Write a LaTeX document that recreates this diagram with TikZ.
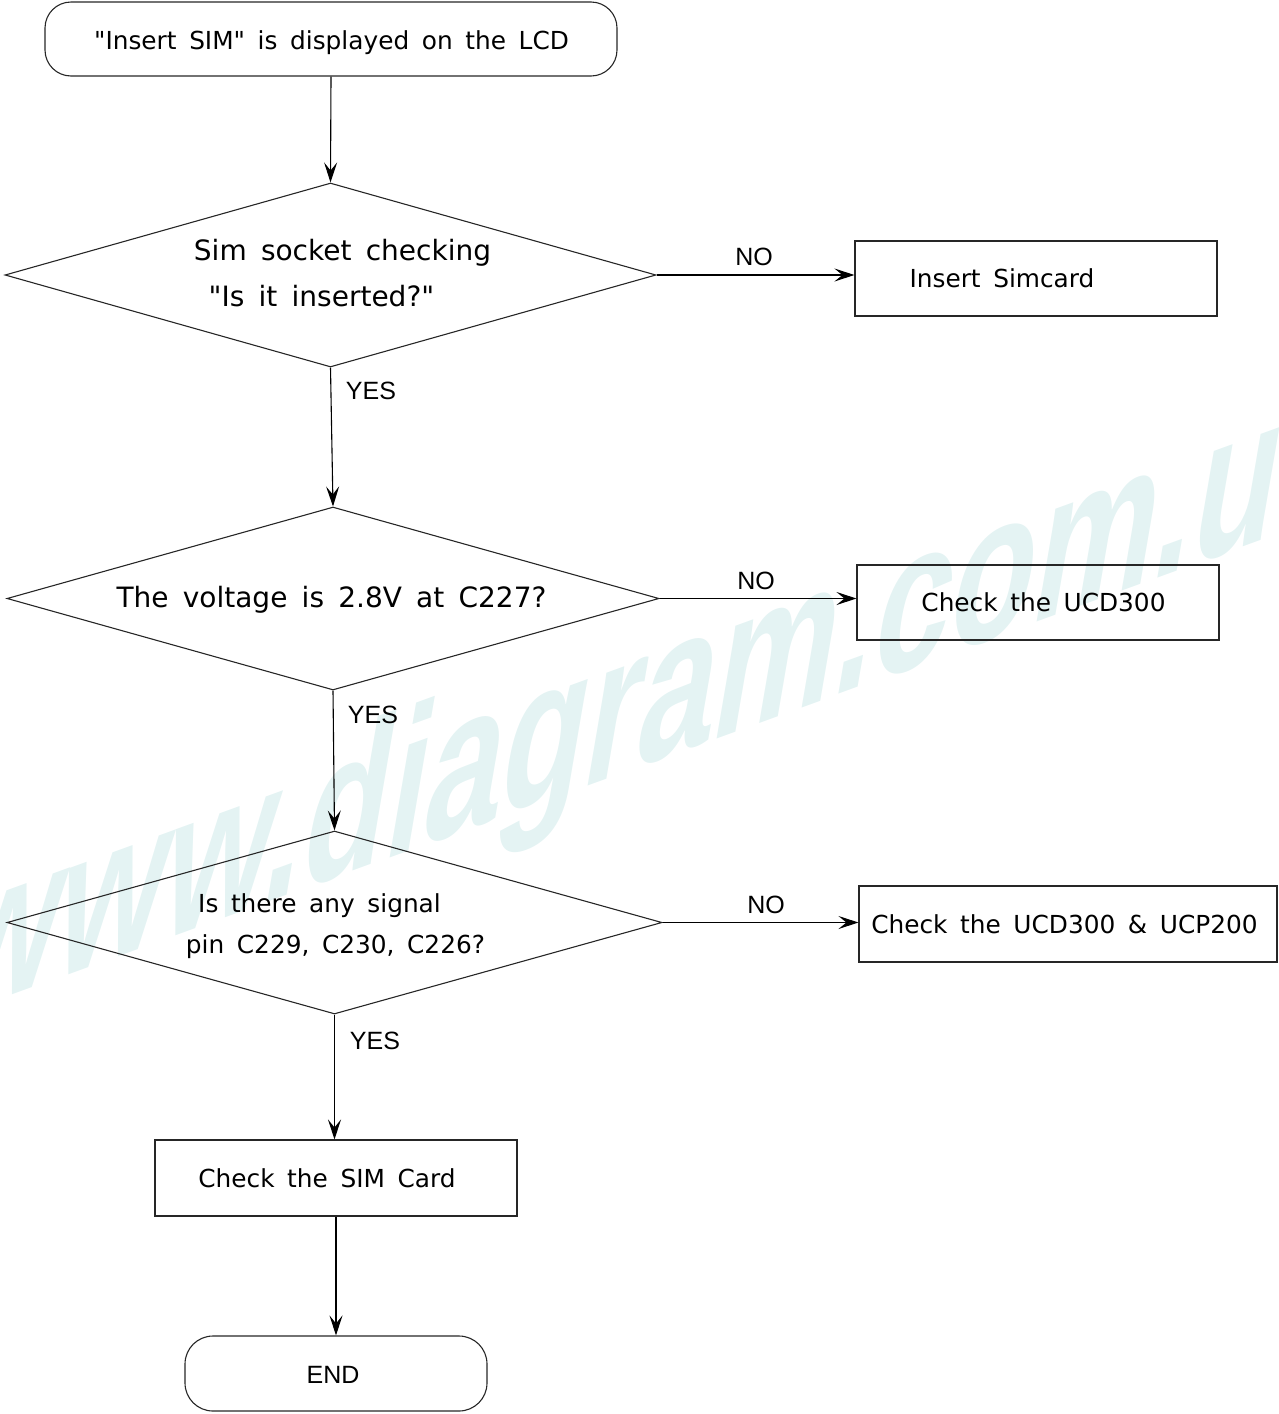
\documentclass[tikz,border=0pt]{standalone}
\usepackage{fontspec}
\setmainfont{DejaVu Sans}[WordSpace=1.6,Ligatures=TeXOff]
\newfontfamily\labfont{Liberation Sans}
\usetikzlibrary{shapes.geometric,arrows.meta}
\definecolor{wmark}{RGB}{228,243,243}
\begin{document}
\begin{tikzpicture}[x=1pt,y=-1pt,
  shp/.style={draw=black!85,line width=1.1pt,inner sep=0pt},
  dia/.style={shp,diamond},
  rbox/.style={shp,rectangle},
  term/.style={shp,rectangle,rounded corners=26pt},
  txt/.style={inner sep=0pt,anchor=base,font=\fontsize{24.8}{30}\selectfont},
  bigtxt/.style={inner sep=0pt,anchor=base,font=\fontsize{28}{34}\selectfont},
  lab/.style={inner sep=0pt,anchor=base,font=\labfont\fontsize{25}{30}\selectfont},
  arr/.style={draw,line width=1.1pt,-{Stealth[length=20pt,width=13pt,inset=8pt]}},
]
\useasboundingbox (0,0) rectangle (1278,1414);
% watermark
\node[inner sep=0pt,anchor=base west,cm={1.369,0.498,0.366,2.139,(0,0)},text=wmark,
      font=\labfont\bfseries\fontsize{100}{100}\selectfont] (wm) at (-56,1020) {www.diagram.com.u};

% shapes
\node[term,minimum width=572,minimum height=74] (start) at (331,39) {};
\node[dia,minimum width=651,minimum height=184] (d1) at (330.5,275) {};
\node[dia,minimum width=652,minimum height=183] (d2) at (333,598.5) {};
\node[dia,minimum width=655,minimum height=183] (d3) at (334.5,922.5) {};
\node[rbox,minimum width=362,minimum height=75] (b1) at (1036,278.5) {};
\node[rbox,minimum width=362,minimum height=75] (b2) at (1038,602.5) {};
\node[rbox,minimum width=418,minimum height=76] (b3) at (1068,924) {};
\node[rbox,minimum width=362,minimum height=76] (sim) at (336,1178) {};
\node[term,minimum width=302,minimum height=75,rounded corners=28pt] (end) at (336,1373.5) {};

% texts
\node[txt] (tstart) at (331.5,49) {"Insert SIM" is displayed on the LCD};
\node[bigtxt] (td1a) at (342.5,260) {Sim socket checking};
\node[bigtxt] (td1b) at (321.5,306) {"Is it inserted?"};
\node[bigtxt] (td2) at (331.5,607) {The voltage is 2.8V at C227?};
\node[txt] (td3a) at (319.5,912) {Is there any signal};
\node[txt] (td3b) at (335.5,953) {pin C229, C230, C226?};
\node[txt] (tb1) at (1002,287) {Insert Simcard};
\node[txt] (tb2) at (1043.5,611) {Check the UCD300};
\node[txt] (tb3) at (1064.5,933) {Check the UCD300 \& UCP200};
\node[txt] (tsim) at (327,1187) {Check the SIM Card};
\node[lab] (tend) at (333,1383) {END};

% connectors
\draw[arr] (start.south) -- (d1.north);
\draw[arr] (d1.east) -- (d1.east -| b1.west);
\draw[arr] (d2.east) -- (d2.east -| b2.west);
\draw[arr] (d3.east) -- (d3.east -| b3.west);
\draw[arr] (d1.south) -- (d2.north);
\draw[arr] (d2.south) -- (d3.north);
\draw[arr] (d3.south) -- (d3.south |- sim.north);
\draw[arr] (sim.south) -- (end.north);

% labels
\node[lab] (no1) at (754,265) {NO};
\node[lab] (no2) at (756,589) {NO};
\node[lab] (no3) at (766,913) {NO};
\node[lab] (yes1) at (371,399) {YES};
\node[lab] (yes2) at (373,723) {YES};
\node[lab] (yes3) at (375,1049) {YES};
\end{tikzpicture}
\end{document}
